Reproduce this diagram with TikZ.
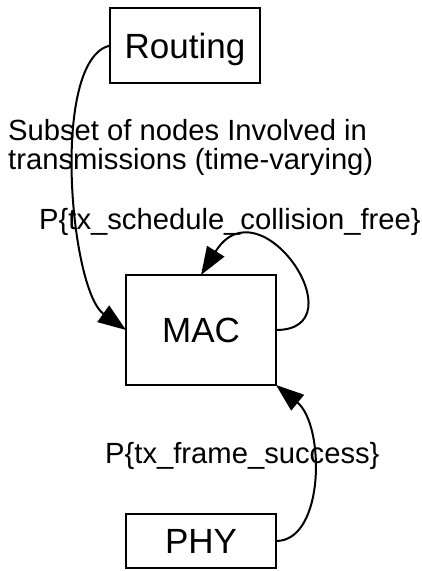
\documentclass[tikz,border=0pt]{standalone}
\usepackage{fontspec}
\setmainfont{Liberation Sans}
\usetikzlibrary{arrows.meta}
\begin{document}
\begin{tikzpicture}[x=1pt,y=-1pt,
  layerbox/.style={draw=black,line width=2pt,inner sep=0pt,outer sep=0pt,
    minimum width=150pt,font=\fontsize{35}{40}\selectfont,
    text height=25.5pt,text depth=0pt},
  lbl/.style={inner sep=0pt,anchor=base west,font=\fontsize{29.2}{29}\selectfont},
  conn/.style={line width=2pt,-{Triangle[length=28pt,width=20pt]}}]
\useasboundingbox (0,0) rectangle (422,571);
\node[layerbox,minimum height=75pt] (routing) at (185,45.5) {Routing};
\node[layerbox,minimum height=110pt] (mac) at (201,330) {MAC};
\node[layerbox,minimum height=54pt] (phy) at (201,541) {PHY};
\node[lbl] (lsub1) at (8,140) {Subset of nodes Involved in};
\node[lbl] (lsub2) at (8,169) {transmissions (time-varying)};
\node[lbl] (lsched) at (39,229) {P\{tx\_schedule\_collision\_free\}};
\node[lbl] (lframe) at (105,463) {P\{tx\_frame\_success\}};
\draw[conn] (routing.west) .. controls +(-60,14) and +(-56,-40) .. (mac.west);
\draw[conn] (mac.east) .. controls +(84,0) and +(59,-95) .. (mac.north);
\draw[conn] (phy.east) .. controls +(49,0) and +(49,40) .. (mac.south east);
\end{tikzpicture}
\end{document}
